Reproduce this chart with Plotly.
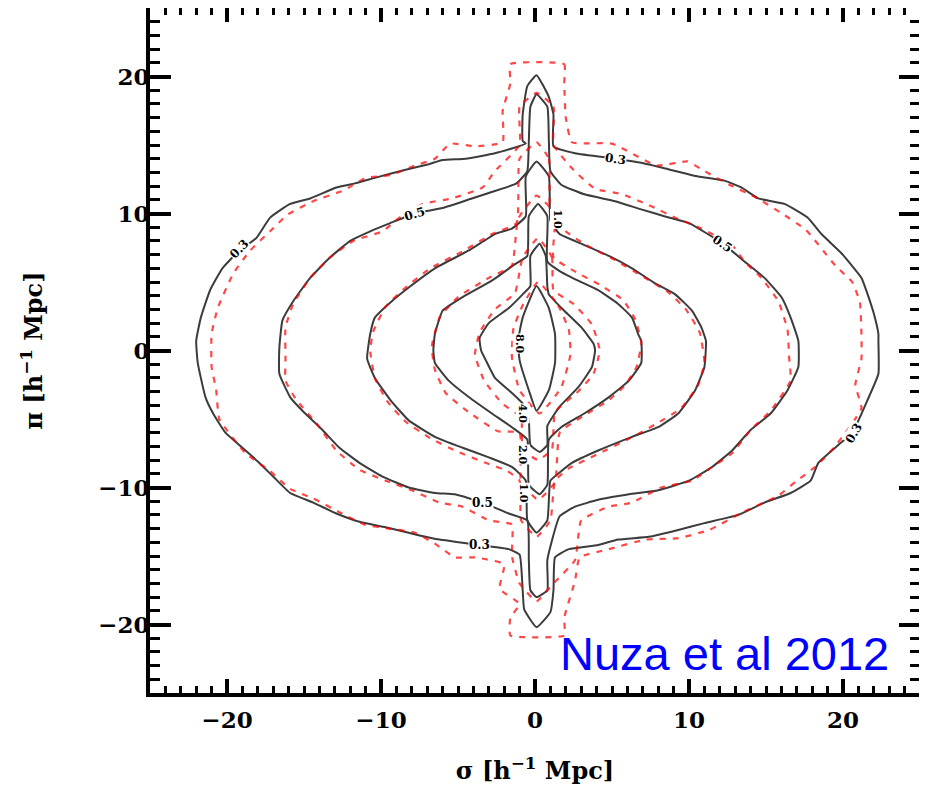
import plotly.graph_objects as go

# ---------------- data (sigma, pi) in h^-1 Mpc ----------------
LEVELS = ["0.3", "0.5", "1.0", "2.0", "4.0", "8.0"]

# black solid contours
black_03 = [(0.1,20.1),(-0.5,19.3),(-0.8,17.2),(-0.8,15.3),(-0.6,15.1),(-2.6,14.4),(-4.5,14.0),(-6.0,13.9),
            (-6.9,13.6),(-8.4,13.2),(-10.4,12.6),(-11.7,12.2),(-12.9,11.9),(-14.6,11.1),(-15.9,10.7),(-17.2,9.7),
            (-18.1,8.2),(-19.2,7.3),(-20.3,6.0),(-21.1,4.4),(-21.7,2.4),(-22.0,0.7),(-21.9,-0.9),(-21.4,-3.4),
            (-20.9,-4.6),(-20.1,-6.0),(-19.0,-7.1),(-18.0,-8.1),(-17.0,-9.2),(-15.9,-10.4),(-14.4,-11.1),
            (-12.9,-11.9),(-11.4,-12.5),(-9.7,-12.9),(-7.5,-13.5),(-6.2,-13.8),(-3.6,-14.2),(-1.7,-14.5),
            (-1.0,-14.9),(-0.8,-17.5),(-0.7,-18.9),(0.1,-20.2),(1.0,-19.1),(1.2,-17.5),(1.3,-15.1),(2.2,-14.5),
            (4.1,-14.2),(5.4,-13.8),(7.4,-13.6),(9.3,-13.1),(11.0,-12.6),(13.2,-12.0),(14.9,-11.1),(16.6,-10.4),
            (17.9,-9.5),(18.4,-8.2),(20.1,-6.5),(20.7,-5.8),(21.6,-3.6),(22.3,-1.7),(22.3,0.7),(22.3,1.2),
            (22.0,2.7),(21.6,4.1),(21.2,5.3),(19.9,7.1),(18.6,8.5),(17.7,9.7),(16.2,10.7),(14.5,11.1),(13.4,11.9),
            (12.3,12.4),(10.6,12.7),(8.4,13.3),(6.9,13.7),(5.2,14.0),(2.6,14.4),(1.2,14.9),(1.2,17.2),(0.9,18.5),
            (0.1,20.1)]
black_05 = [(0.1,18.7),(-0.3,17.8),(-0.4,15.3),(-0.5,13.1),(-1.2,12.2),(-3.0,11.5),(-4.1,11.1),(-6.0,10.4),
            (-7.8,10.0),(-9.4,9.3),(-10.7,8.7),(-12.0,8.0),(-13.3,6.8),(-14.6,5.3),(-15.7,3.6),(-16.4,2.2),
            (-16.6,0.2),(-16.6,-1.7),(-15.9,-3.4),(-15.1,-4.4),(-13.8,-5.8),(-12.7,-7.1),(-11.4,-8.2),(-9.9,-9.2),
            (-8.2,-10.0),(-6.5,-10.4),(-5.2,-10.5),(-3.4,-11.1),(-1.7,-11.9),(-0.5,-12.4),(-0.4,-15.3),
            (-0.3,-17.5),(0.1,-18.0),(0.8,-17.5),(0.8,-15.3),(1.6,-12.1),(2.6,-11.4),(4.1,-10.9),(6.1,-10.5),
            (8.0,-10.2),(10.0,-9.5),(11.5,-8.5),(12.8,-7.3),(14.0,-5.8),(15.3,-4.6),(16.4,-2.9),(17.1,-1.2),
            (17.1,0.7),(16.6,2.4),(16.0,3.9),(14.9,5.3),(13.6,6.5),(12.2,7.8),(10.0,9.3),(8.4,9.8),(6.9,10.3),
            (5.2,10.9),(3.2,11.4),(1.7,12.1),(1.0,13.1),(0.9,15.3),(0.8,17.8),(0.1,18.7)]
black_10 = [(0.1,13.8),(-0.6,12.7),(-0.6,9.8),(-1.5,8.9),(-2.6,8.5),(-4.3,7.3),(-6.5,6.0),(-8.2,4.6),(-9.3,3.6),
            (-10.4,2.4),(-10.7,1.2),(-10.9,-0.6),(-10.4,-2.0),(-9.4,-3.6),(-8.2,-5.1),(-6.5,-6.3),(-4.7,-7.1),
            (-3.0,-7.8),(-1.5,-8.5),(-0.6,-9.5),(-0.5,-12.4),(0.1,-13.3),(0.8,-12.4),(1.0,-9.5),(1.6,-8.9),
            (2.4,-8.2),(4.1,-7.3),(6.3,-6.3),(8.0,-5.6),(9.3,-4.6),(10.4,-2.9),(11.0,-1.2),(11.1,0.7),(10.8,1.7),
            (10.2,2.9),(9.1,4.1),(7.8,4.9),(6.3,6.0),(4.8,6.9),(3.0,7.8),(1.6,8.5),(1.0,9.5),(0.9,12.7),(0.1,13.8)]
black_20 = [(0.2,10.7),(-0.4,9.8),(-0.5,6.9),(-1.3,6.3),(-2.8,5.1),(-4.7,3.9),(-6.0,2.9),(-6.5,1.2),(-6.6,0.0),
            (-6.5,-0.9),(-5.6,-2.2),(-4.3,-3.4),(-2.8,-4.6),(-1.5,-5.6),(-0.5,-6.5),(-0.4,-9.8),(0.3,-10.5),
            (0.8,-9.8),(0.9,-6.5),(1.7,-5.6),(3.2,-4.6),(4.8,-3.4),(6.1,-2.2),(6.9,-0.9),(6.9,0.7),(6.7,1.2),
            (6.3,2.4),(5.4,3.4),(4.1,4.4),(2.8,5.1),(1.6,5.8),(0.8,6.5),(0.8,9.8),(0.2,10.7)]
black_40 = [(0.3,7.8),(-0.3,6.9),(-0.3,4.7),(-0.8,4.1),(-1.7,3.1),(-3.0,2.0),(-3.6,0.9),(-3.5,0.0),(-3.2,-0.7),
            (-2.6,-2.0),(-1.5,-3.1),(-0.7,-4.0),(-0.4,-5.1),(-0.3,-6.9),(0.3,-7.4),(0.8,-6.9),(0.8,-5.5),
            (1.6,-4.1),(2.8,-2.7),(3.7,-1.2),(3.9,0.0),(3.8,0.5),(3.0,1.7),(1.9,2.9),(0.9,4.1),(0.8,4.7),
            (0.7,6.9),(0.3,7.8)]
black_80 = [(0.1,4.7),(-0.8,2.4),(-1.1,0.7),(-1.0,-0.7),(-0.4,-2.9),(0.1,-4.4),(0.9,-2.9),(1.3,-0.9),
            (1.3,1.2),(0.9,3.1),(0.1,4.7)]

# red dashed contours
red_03 = [(-1.6,20.9),(1.9,20.9),(1.9,19.5),(2.0,17.0),(2.4,15.2),(5.0,15.1),(7.9,13.5),(9.9,13.8),(11.0,13.1),
          (12.8,12.0),(14.3,11.2),(15.9,10.1),(17.6,8.8),(19.5,6.2),(20.6,5.0),(21.1,3.5),(21.2,1.0),(21.2,-0.6),
          (20.8,-2.5),(21.2,-4.2),(20.3,-5.8),(19.4,-7.1),(18.3,-8.4),(16.9,-9.6),(15.8,-10.6),(13.5,-11.8),
          (11.3,-13.1),(9.3,-13.7),(7.2,-13.8),(4.8,-14.5),(2.9,-15.1),(2.6,-16.8),(1.9,-19.5),(1.9,-20.8),
          (-1.6,-20.8),(-1.6,-19.5),(-1.0,-18.5),(-2.3,-17.4),(-2.0,-15.6),(-3.9,-15.1),(-5.2,-15.1),
          (-6.5,-14.1),(-7.8,-13.3),(-9.5,-13.0),(-11.1,-12.7),(-12.7,-11.8),(-14.4,-10.8),(-15.9,-10.1),
          (-17.2,-8.8),(-18.8,-7.5),(-20.5,-5.0),(-20.7,-2.9),(-21.0,-1.2),(-21.0,1.2),(-20.6,3.1),(-19.6,5.6),
          (-18.5,7.3),(-17.2,8.7),(-16.1,9.9),(-14.4,10.9),(-12.4,11.7),(-11.0,12.6),(-9.4,12.8),(-7.8,13.5),
          (-6.5,14.0),(-5.5,15.1),(-3.9,14.9),(-2.1,15.2),(-2.1,17.5),(-1.6,19.5),(-1.6,20.9)]
red_05 = [(0.1,18.8),(1.2,17.8),(1.2,15.0),(2.4,13.3),(3.9,11.8),(5.7,11.4),(7.4,10.6),(9.3,9.6),(10.8,8.9),
          (12.8,7.7),(13.6,6.5),(14.7,5.3),(15.8,3.6),(16.4,1.5),(16.5,-0.5),(16.6,-2.2),(15.3,-4.4),(14.0,-5.8),
          (12.8,-7.5),(11.5,-8.5),(10.2,-9.5),(8.2,-10.0),(6.3,-11.1),(4.8,-11.4),(3.0,-12.4),(2.6,-15.3),
          (1.2,-17.0),(0.1,-18.3),(-1.0,-17.0),(-1.5,-15.0),(-1.5,-12.7),(-3.0,-12.4),(-4.7,-11.4),(-6.2,-11.1),
          (-8.0,-10.2),(-9.7,-9.5),(-11.4,-8.7),(-12.9,-7.3),(-14.2,-5.3),(-15.5,-3.6),(-16.2,-2.2),(-16.2,-0.5),
          (-16.2,1.7),(-15.7,3.4),(-14.6,5.3),(-13.3,6.8),(-11.8,8.0),(-9.9,8.7),(-8.8,9.7),(-7.3,10.7),
          (-5.4,11.1),(-3.4,11.9),(-2.6,13.1),(-1.0,15.0),(-1.0,17.8),(0.1,18.8)]
red_10 = [(0.1,15.2),(0.9,14.0),(1.0,10.0),(2.0,8.7),(3.3,7.7),(5.2,6.6),(7.0,5.4),(8.6,4.3),(9.8,3.0),(10.7,1.3),
          (11.0,-0.9),(10.6,-2.5),(9.5,-4.2),(7.8,-5.4),(6.0,-6.5),(4.0,-7.6),(2.2,-8.6),(1.3,-9.5),(1.0,-12.4),
          (0.1,-13.6),(-0.9,-12.4),(-1.0,-9.5),(-1.8,-8.8),(-3.2,-8.2),(-5.0,-7.4),(-6.8,-6.4),(-8.4,-5.2),
          (-9.6,-3.7),(-10.4,-2.0),(-10.7,0.0),(-10.5,1.4),(-9.7,3.2),(-8.4,4.6),(-6.8,6.0),(-4.6,7.3),
          (-2.8,8.5),(-1.2,9.3),(-1.0,14.0),(0.1,15.2)]
red_20 = [(0.1,11.3),(1.3,10.0),(1.2,6.8),(2.7,5.7),(4.2,4.8),(5.7,3.7),(6.5,2.3),(6.9,0.6),(6.6,-1.2),(5.8,-2.6),
          (4.7,-3.7),(3.1,-4.8),(1.6,-6.0),(1.3,-9.6),(0.2,-10.9),(-0.9,-9.6),(-1.0,-6.0),(-2.4,-5.9),(-4.3,-4.5),
          (-5.8,-3.1),(-6.5,-1.4),(-6.7,0.3),(-6.2,2.4),(-5.0,3.9),(-3.0,5.3),(-1.5,6.2),(-1.1,9.6),(0.1,11.3)]
red_40 = [(0.2,8.2),(1.1,6.8),(1.2,4.4),(2.5,3.4),(3.7,1.9),(4.2,0.0),(3.8,-1.7),(2.8,-3.0),(1.3,-4.5),(1.1,-7.2),
          (0.2,-8.0),(-0.8,-7.2),(-0.9,-4.9),(-2.1,-3.9),(-3.3,-2.2),(-3.9,-0.3),(-3.6,1.3),(-2.6,3.0),(-1.3,4.2),
          (-0.8,6.8),(0.2,8.2)]
red_80 = [(0.2,5.0),(1.5,3.3),(2.2,1.5),(2.3,-0.3),(1.7,-2.7),(0.3,-4.6),(-1.0,-2.9),(-1.5,-0.5),(-1.4,1.6),
          (-0.8,3.3),(0.2,5.0)]

# contour labels: (text, sigma, pi, angle)
label_text = ["0.3", "0.3", "0.3", "0.3", "0.5", "0.5", "0.5", "1.0", "8.0", "4.0", "2.0", "1.0"]
label_sigma = [-19.2, 5.2, 20.7, -3.6, -7.8, 12.2, -3.4, 1.4, -1.0, -0.8, -0.8, -0.8]
label_pi = [7.4, 14.0, -6.0, -14.2, 10.0, 7.8, -11.1, 9.6, 0.5, -4.6, -7.6, -10.4]
label_angle = [-45, 8, -59, 0, -16, 34, 0, 90, 90, 90, 90, 90]

x_ticks = [-20, -10, 0, 10, 20]
y_ticks = [-20, -10, 0, 10, 20]
tick_text = ["\u221220", "\u221210", "0", "10", "20"]

fig = go.Figure()

def add_contour(pts, color, dash, width):
    fig.add_trace(go.Scatter(
        x=[p[0] for p in pts], y=[p[1] for p in pts], mode="lines",
        line=dict(color=color, width=width, dash=dash, shape="spline", smoothing=0.4),
        hoverinfo="skip", showlegend=False))

for pts in [black_03, black_05, black_10, black_20, black_40, black_80]:
    add_contour(pts, "#3c3c3c", "solid", 2)
for pts in [red_03, red_05, red_10, red_20, red_40, red_80]:
    add_contour(pts, "rgba(255,0,0,0.72)", "6px,7px", 2.2)

serif = "DejaVu Serif"
for t, s, p, a in zip(label_text, label_sigma, label_pi, label_angle):
    fig.add_annotation(x=s, y=p, text="<b>%s</b>" % t, showarrow=False, textangle=a,
                       font=dict(family=serif, size=12 if a != 90 else 11, color="black"),
                       bgcolor="white", borderpad=0)

fig.add_annotation(x=1.5, y=-22.1, text="Nuza et al 2012", showarrow=False,
                   xanchor="left", yanchor="middle",
                   font=dict(family="Liberation Sans, Arial", size=47, color="#0000ff"))

axis_common = dict(showline=True, linewidth=4, linecolor="black", mirror="ticks",
                   ticks="inside", tickwidth=3.5, tickcolor="black", showgrid=False,
                   zeroline=False, automargin=False,
                   tickfont=dict(family=serif, size=23, color="black"))

fig.update_xaxes(range=[-25, 25], tickvals=x_ticks, ticktext=["<b>%s</b>" % t for t in tick_text], ticklen=14,
                 ticklabelstandoff=3,
                 minor=dict(dtick=1, ticklen=7, tickwidth=2.5, ticks="inside", tickcolor="black", showgrid=False),
                 title=dict(text="<b>\u03c3 [h<sup>\u22121</sup> Mpc]</b>", font=dict(family=serif, size=24, color="black"),
                            standoff=32),
                 **axis_common)
fig.update_yaxes(range=[-25, 25], tickvals=y_ticks, ticktext=["<b>%s</b>" % t for t in tick_text], ticklen=21,
                 ticklabelstandoff=-8,
                 minor=dict(dtick=1, ticklen=10, tickwidth=2.5, ticks="inside", tickcolor="black", showgrid=False),
                 title=dict(text="<b>\u03c0 [h<sup>\u22121</sup> Mpc]</b>", font=dict(family=serif, size=24, color="black"),
                            standoff=50),
                 **axis_common)

# the page body adds an 8 px offset, so the figure is made 8 px smaller to fit the 927x790 window
fig.update_layout(width=919, height=782, plot_bgcolor="white", paper_bgcolor="white",
                  margin=dict(l=142, r=7, t=0, b=97), showlegend=False)

fig.write_html("out.html")
